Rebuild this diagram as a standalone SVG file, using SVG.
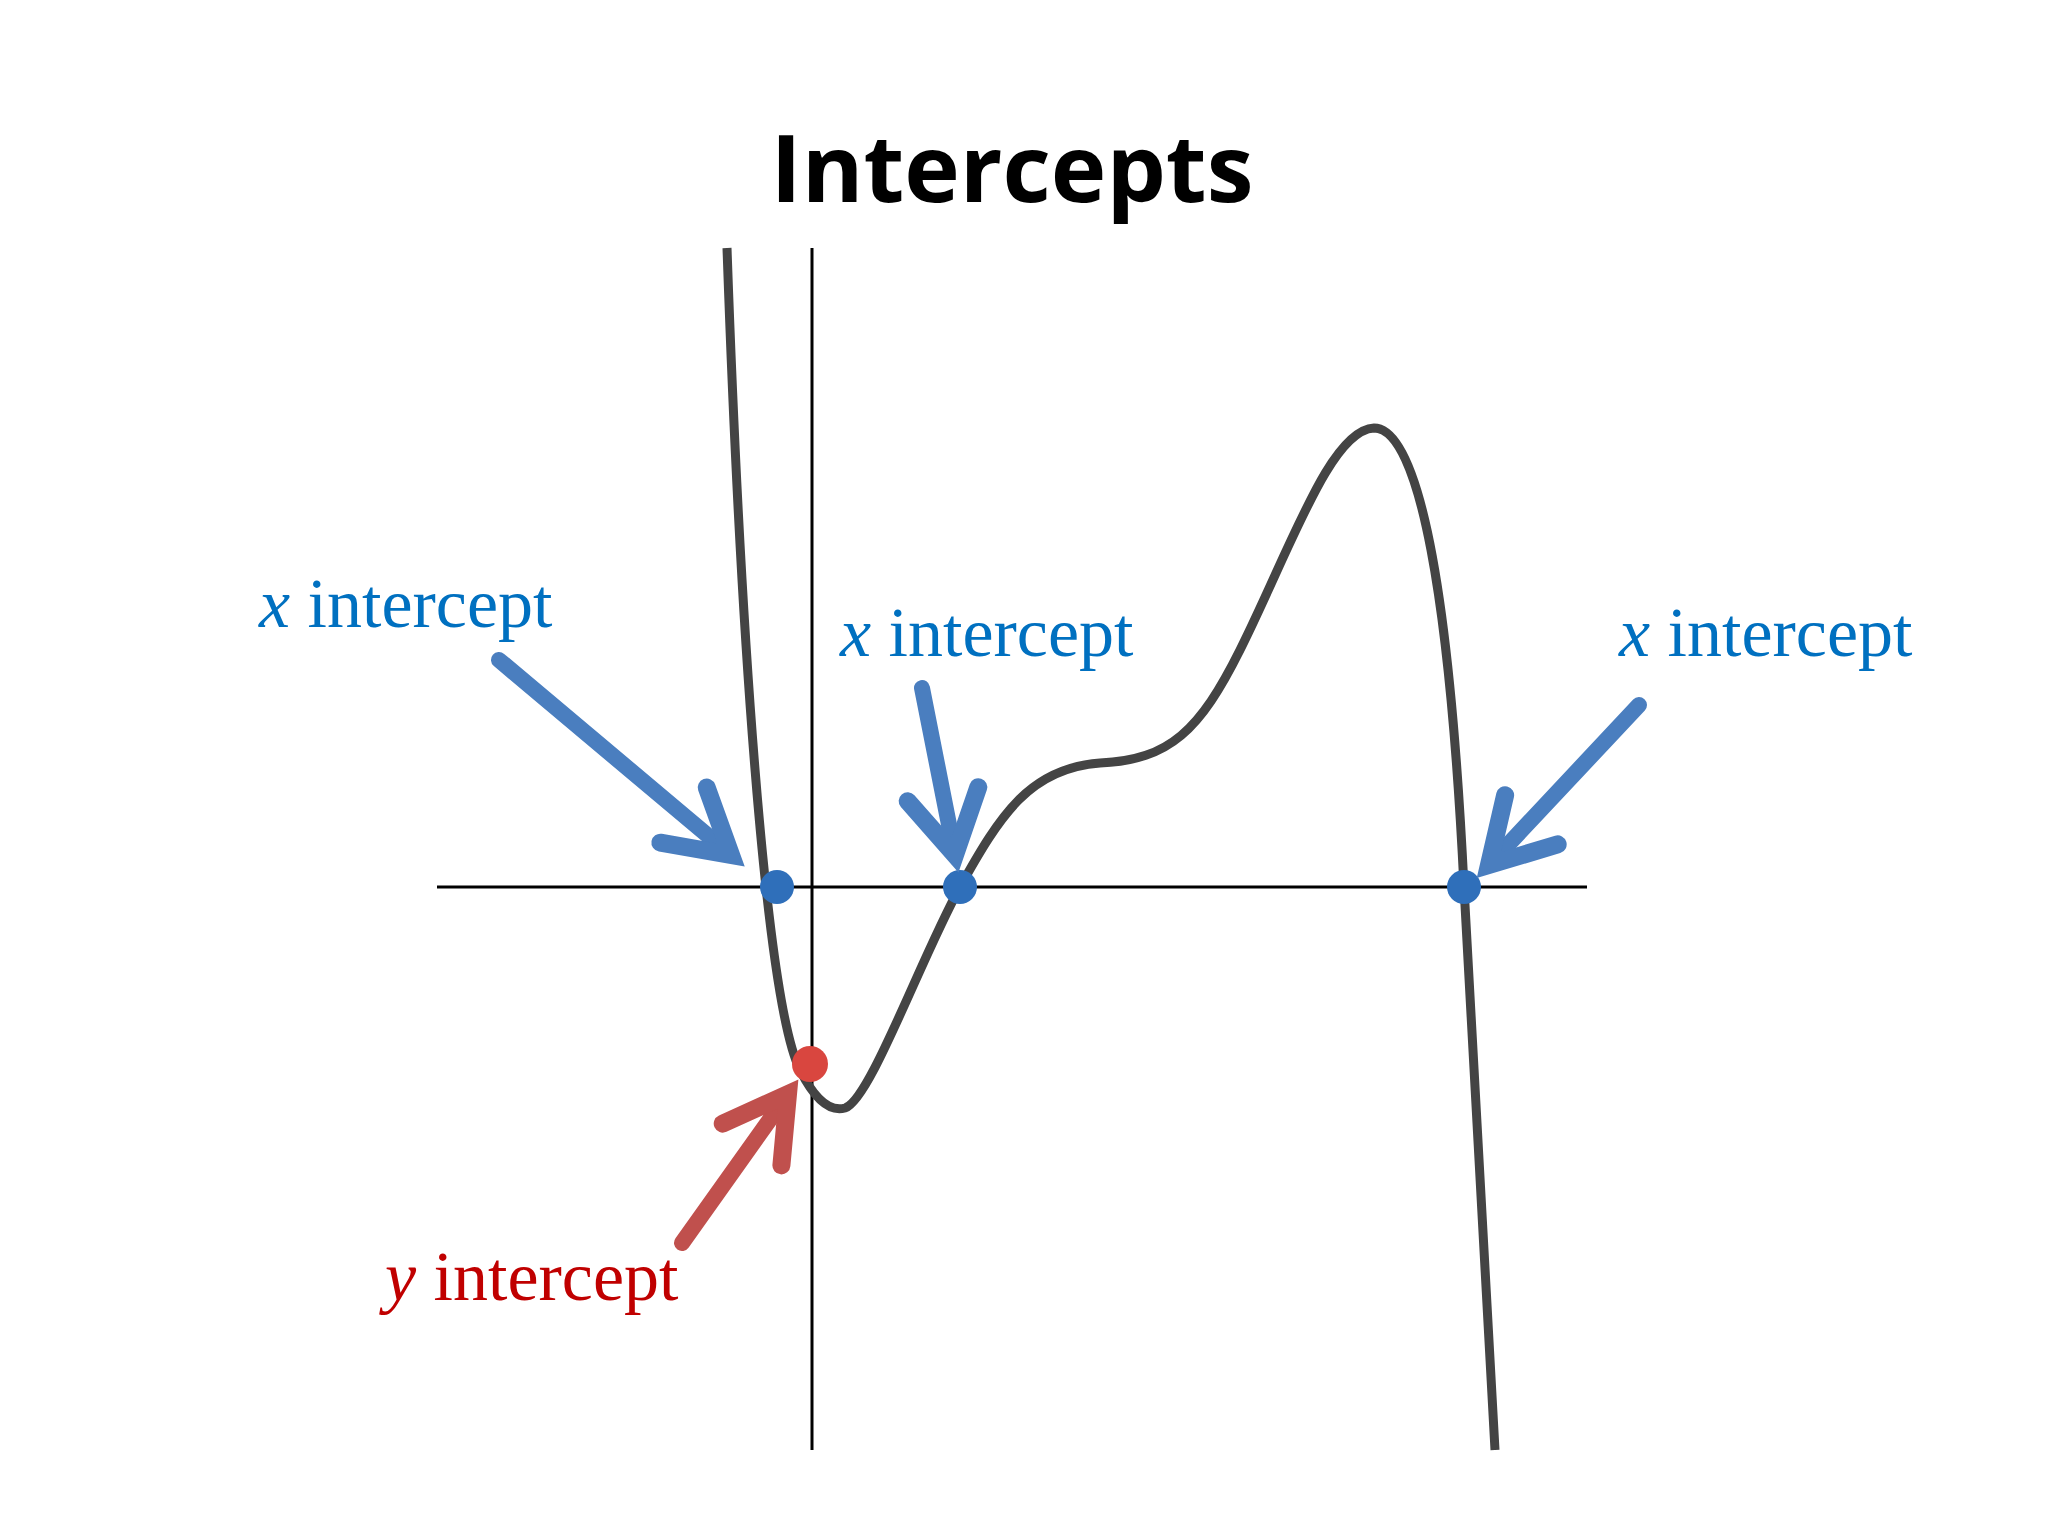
<svg xmlns="http://www.w3.org/2000/svg" width="2048" height="1536" viewBox="0 0 2048 1536">
<style>
.lbl{font-family:"Liberation Serif","DejaVu Serif",serif;font-size:70px}
.b{fill:#0070C0}.r{fill:#C00000}
.arr{fill:none;stroke-width:16;stroke-linecap:round;stroke-linejoin:miter}
</style>
<defs>
<marker id="mb" markerUnits="userSpaceOnUse" orient="auto" markerWidth="120" markerHeight="120" refX="0" refY="0" viewBox="-90 -60 120 120" overflow="visible">
<path d="M-62,-36 L0,0 L-62,36" fill="none" stroke="#4a7ebf" stroke-width="18" stroke-linejoin="miter" stroke-linecap="round"/>
</marker>
<marker id="mr" markerUnits="userSpaceOnUse" orient="auto" markerWidth="120" markerHeight="120" refX="0" refY="0" viewBox="-90 -60 120 120" overflow="visible">
<path d="M-62,-36 L0,0 L-62,36" fill="none" stroke="#c0504d" stroke-width="18" stroke-linejoin="miter" stroke-linecap="round"/>
</marker>
</defs>
<rect width="2048" height="1536" fill="#fff"/>
<text x="1012" y="202" text-anchor="middle" font-family="Open Sans,Liberation Sans,sans-serif" font-weight="bold" font-size="94">Intercepts</text>
<g id="axes" stroke="#000" stroke-width="3">
<line x1="437" y1="887" x2="1587" y2="887"/>
<line x1="812" y1="248" x2="812" y2="1450"/>
</g>
<g id="curve">
<path d="M727,248 C740,620 765,1000 800,1070 C815,1100 830,1112 845,1108 C870,1100 920,960 960,887 C1000,815 1030,768 1100,763 C1170,760 1200,730 1240,650 C1290,550 1330,430 1374,428 C1420,428 1450,600 1464,887 C1475,1100 1488,1300 1495,1450" fill="none" stroke="#444" stroke-width="9"/>
</g>
<g id="points">
<circle cx="777" cy="887" r="17" fill="#2f6fba"/>
<circle cx="960" cy="887" r="17" fill="#2f6fba"/>
<circle cx="1464" cy="887" r="17" fill="#2f6fba"/>
<circle cx="810" cy="1064" r="18" fill="#d9463f"/>
</g>
<g id="connectors">
<line class="arr" x1="499" y1="660" x2="731" y2="855" stroke="#4a7ebf" marker-end="url(#mb)"/>
<line class="arr" x1="922" y1="688" x2="955" y2="855" stroke="#4a7ebf" marker-end="url(#mb)"/>
<line class="arr" x1="1639" y1="705" x2="1489" y2="865" stroke="#4a7ebf" marker-end="url(#mb)"/>
<line class="arr" x1="682" y1="1243" x2="788" y2="1094" stroke="#c0504d" marker-end="url(#mr)"/>
</g>
<g id="labels">
<text class="lbl b" x="259" y="627"><tspan font-style="italic">x</tspan> intercept</text>
<text class="lbl b" x="840" y="656"><tspan font-style="italic">x</tspan> intercept</text>
<text class="lbl b" x="1619" y="656"><tspan font-style="italic">x</tspan> intercept</text>
<text class="lbl r" x="385" y="1300"><tspan font-style="italic">y</tspan> intercept</text>
</g>
</svg>
